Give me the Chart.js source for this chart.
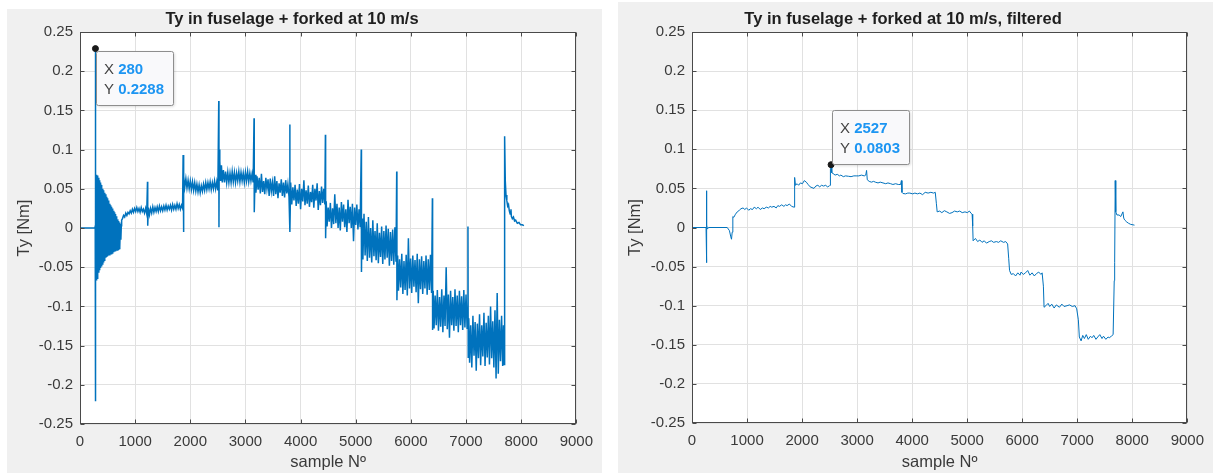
<!DOCTYPE html>
<html>
<head>
<meta charset="utf-8">
<script src="https://cdn.jsdelivr.net/npm/chart.js@4.4.1/dist/chart.umd.min.js"></script>
<style>
  body { margin: 0; background: #fff; width: 1213px; height: 473px; overflow: hidden; position: relative; }
  .panel { position: absolute; background: #f0f0f0; }
  #panelRaw { left: 7px; top: 9px; width: 595px; height: 464px; }
  #panelFilt { left: 618px; top: 2px; width: 595px; height: 471px; }
  canvas { display: block; }
</style>
</head>
<body>
<div class="panel" id="panelRaw"><canvas id="rawChart" width="595" height="464"></canvas></div>
<div class="panel" id="panelFilt"><canvas id="filtChart" width="595" height="471"></canvas></div>
<script>
// axis ticks
const xTicks = [0, 1000, 2000, 3000, 4000, 5000, 6000, 7000, 8000, 9000];
const xTickLabels = ['0', '1000', '2000', '3000', '4000', '5000', '6000', '7000', '8000', '9000'];
const yTicks = [-0.25, -0.2, -0.15, -0.1, -0.05, 0, 0.05, 0.1, 0.15, 0.2, 0.25];
const yTickLabels = ['-0.25', '-0.2', '-0.15', '-0.1', '-0.05', '0', '0.05', '0.1', '0.15', '0.2', '0.25'];

// data tips (left, right)
const tipSample = [280, 2527];
const tipTy = [0.2288, 0.0803];

// raw signal, [sample, Ty]
const rawTy = [
  [0, 0], [270, 0], [276, 0.002], [279, -0.221], [280, 0.2288], [282, -0.08],
  // decaying oscillation after the first hit
  [285, 0.070], [293, -0.066], [301, 0.068], [309, -0.064], [317, 0.067], [325, -0.060], [333, 0.064], [341, -0.057],
  [349, 0.061], [357, -0.054], [365, 0.058], [373, -0.051], [381, 0.055], [389, -0.049], [397, 0.053], [405, -0.046],
  [413, 0.050], [421, -0.043], [429, 0.048], [437, -0.041], [445, 0.045], [453, -0.040], [461, 0.043], [469, -0.038],
  [477, 0.040], [485, -0.037], [493, 0.038], [501, -0.036], [509, 0.035], [517, -0.035], [525, 0.033], [533, -0.034],
  [541, 0.031], [549, -0.033], [557, 0.029], [565, -0.033], [573, 0.027], [581, -0.032], [589, 0.025], [597, -0.031],
  [605, 0.022], [613, -0.031], [621, 0.020], [629, -0.030], [637, 0.018], [645, -0.030], [653, 0.015], [661, -0.029],
  [669, 0.013], [677, -0.028], [685, 0.011], [693, -0.027], [701, 0.009], [709, -0.026], [717, 0.007], [725, -0.025],
  [733, 0.005], [741, -0.015], [749, 0.003], [755, 0.010],
  // step 1
  [770, 0.012], [790, 0.016], [810, 0.014], [830, 0.019], [850, 0.016], [870, 0.020], [890, 0.018], [910, 0.022],
  [930, 0.019], [950, 0.024], [970, 0.020], [990, 0.025], [1010, 0.021], [1030, 0.026], [1050, 0.021], [1070, 0.025],
  [1090, 0.020], [1110, 0.026], [1130, 0.021], [1150, 0.024], [1170, 0.019], [1190, 0.025], [1210, 0.018],
  [1224, 0.059], [1228, 0.003], [1240, 0.026], [1260, 0.017], [1280, 0.025], [1300, 0.019], [1320, 0.027],
  [1340, 0.020], [1360, 0.026], [1380, 0.021], [1400, 0.027], [1420, 0.021], [1440, 0.028], [1460, 0.022],
  [1480, 0.027], [1500, 0.022], [1520, 0.028], [1540, 0.023], [1560, 0.029], [1580, 0.023], [1600, 0.028],
  [1620, 0.024], [1640, 0.029], [1660, 0.023], [1680, 0.030], [1700, 0.024], [1720, 0.029], [1740, 0.024],
  [1760, 0.031], [1780, 0.025], [1800, 0.030], [1820, 0.024], [1840, 0.029], [1860, 0.025],
  // step 2
  [1870, 0.093], [1874, -0.005],
  [1885, 0.066], [1900, 0.052], [1920, 0.063], [1940, 0.051], [1960, 0.061], [1980, 0.050], [2000, 0.060],
  [2020, 0.049], [2040, 0.059], [2060, 0.048], [2080, 0.058], [2100, 0.047], [2120, 0.056], [2140, 0.046],
  [2160, 0.055], [2180, 0.045], [2200, 0.054], [2220, 0.047], [2240, 0.056], [2260, 0.048], [2280, 0.058],
  [2300, 0.049], [2320, 0.058], [2340, 0.050], [2360, 0.059], [2380, 0.049], [2400, 0.058], [2420, 0.050],
  [2440, 0.060], [2460, 0.050], [2480, 0.059], [2500, 0.048],
  // step 3
  [2516, 0.162], [2520, 0.001], [2525, 0.100],
  [2535, 0.085], [2550, 0.060], [2565, 0.080], [2580, 0.058], [2600, 0.074], [2620, 0.058], [2640, 0.072],
  [2660, 0.058], [2680, 0.071], [2700, 0.058], [2720, 0.070], [2740, 0.058], [2760, 0.072], [2780, 0.059],
  [2800, 0.071], [2820, 0.058], [2840, 0.070], [2860, 0.060], [2880, 0.072], [2900, 0.059], [2920, 0.071],
  [2940, 0.060], [2960, 0.070], [2980, 0.058], [3000, 0.071], [3020, 0.060], [3040, 0.072], [3060, 0.059],
  [3080, 0.070], [3100, 0.060], [3120, 0.069], [3140, 0.058],
  // step 4
  [3156, 0.140], [3160, 0.020],
  [3175, 0.068], [3190, 0.045], [3210, 0.066], [3230, 0.049], [3250, 0.064], [3270, 0.044], [3290, 0.069],
  [3310, 0.046], [3330, 0.060], [3350, 0.043], [3370, 0.064], [3390, 0.050], [3410, 0.062], [3430, 0.041],
  [3450, 0.063], [3470, 0.047], [3490, 0.058], [3510, 0.041], [3530, 0.066], [3550, 0.043], [3570, 0.060],
  [3590, 0.038], [3610, 0.057], [3630, 0.045], [3650, 0.062], [3670, 0.041], [3690, 0.058], [3710, 0.039],
  [3730, 0.061], [3750, 0.044], [3770, 0.056], [3790, 0.040],
  // step 5
  [3804, 0.132], [3808, -0.005],
  [3820, 0.058], [3840, 0.030], [3860, 0.052], [3880, 0.035], [3900, 0.055], [3920, 0.028], [3940, 0.049],
  [3960, 0.031], [3980, 0.056], [4000, 0.024], [4020, 0.050], [4040, 0.034], [4060, 0.061], [4080, 0.029],
  [4100, 0.048], [4120, 0.031], [4140, 0.054], [4160, 0.027], [4180, 0.046], [4200, 0.033], [4220, 0.055],
  [4240, 0.026], [4260, 0.050], [4280, 0.035], [4300, 0.057], [4320, 0.023], [4340, 0.047], [4360, 0.029],
  [4380, 0.053], [4400, 0.032], [4420, 0.050], [4440, 0.030],
  // step 6
  [4450, 0.119], [4454, -0.013],
  [4465, 0.034], [4480, 0.002], [4500, 0.026], [4520, 0.008], [4540, 0.032], [4560, 0.000], [4580, 0.025],
  [4600, 0.005], [4620, 0.043], [4640, 0.006], [4660, 0.031], [4680, 0.000], [4700, 0.026], [4720, -0.003],
  [4740, 0.033], [4760, 0.008], [4780, 0.030], [4800, 0.001], [4820, 0.024], [4840, -0.005], [4860, 0.036],
  [4880, 0.006], [4900, 0.027], [4920, 0.000], [4940, 0.031], [4960, -0.017], [4980, 0.026], [5000, 0.004],
  [5020, 0.030], [5040, -0.002], [5060, 0.024], [5080, 0.001],
  // step 7
  [5100, 0.100], [5104, -0.056],
  [5115, 0.012], [5130, -0.040], [5150, 0.018], [5170, -0.035], [5190, 0.008], [5210, -0.042], [5230, 0.014],
  [5250, -0.038], [5270, 0.000], [5290, -0.044], [5310, 0.010], [5330, -0.036], [5350, -0.004], [5370, -0.041],
  [5390, 0.006], [5410, -0.045], [5430, -0.006], [5450, -0.037], [5470, 0.002], [5490, -0.046], [5510, -0.004],
  [5530, -0.040], [5550, 0.003], [5570, -0.038], [5590, -0.001], [5610, -0.048], [5630, -0.005], [5650, -0.042],
  [5670, -0.002], [5690, -0.047], [5710, 0.001], [5730, -0.043],
  // step 8
  [5743, 0.072], [5747, -0.092],
  [5760, -0.035], [5775, -0.080], [5795, -0.040], [5815, -0.076], [5835, -0.033], [5855, -0.084], [5875, -0.042],
  [5895, -0.079], [5915, -0.034], [5935, -0.086], [5955, -0.013], [5975, -0.077], [5995, -0.039], [6015, -0.083],
  [6035, -0.035], [6055, -0.075], [6075, -0.041], [6095, -0.082], [6115, -0.033], [6135, -0.096], [6155, -0.040],
  [6175, -0.078], [6195, -0.036], [6215, -0.084], [6235, -0.042], [6255, -0.077], [6275, -0.035], [6295, -0.085],
  [6315, -0.040], [6335, -0.079], [6355, -0.034], [6375, -0.083],
  // step 9
  [6390, 0.038], [6394, -0.130],
  [6405, -0.080], [6420, -0.128], [6440, -0.086], [6460, -0.124], [6480, -0.079], [6500, -0.131], [6520, -0.088],
  [6540, -0.126], [6560, -0.078], [6580, -0.133], [6600, -0.086], [6620, -0.125], [6640, -0.050], [6660, -0.129],
  [6680, -0.085], [6700, -0.140], [6720, -0.080], [6740, -0.124], [6760, -0.088], [6780, -0.131], [6800, -0.078],
  [6820, -0.125], [6840, -0.086], [6860, -0.133], [6880, -0.080], [6900, -0.124], [6920, -0.087], [6940, -0.130],
  [6960, -0.079], [6980, -0.127], [7000, -0.085], [7020, -0.128],
  // step 10
  [7035, 0.002], [7040, -0.165],
  [7050, -0.115], [7065, -0.172], [7085, -0.124], [7105, -0.178], [7125, -0.112], [7145, -0.163], [7165, -0.120],
  [7185, -0.182], [7205, -0.122], [7225, -0.166], [7245, -0.110], [7265, -0.175], [7285, -0.124], [7305, -0.164],
  [7325, -0.108], [7345, -0.176], [7365, -0.121], [7385, -0.165], [7405, -0.112], [7425, -0.174], [7445, -0.100],
  [7465, -0.166], [7485, -0.119], [7505, -0.178], [7525, -0.105], [7545, -0.192], [7565, -0.083], [7585, -0.186],
  [7605, -0.117], [7625, -0.170], [7645, -0.112], [7665, -0.176], [7680, -0.124], [7690, -0.174],
  // release
  [7700, 0.117], [7712, 0.060], [7725, 0.042], [7740, 0.035], [7755, 0.028], [7770, 0.030], [7785, 0.022],
  [7800, 0.018], [7815, 0.024], [7822, 0.015], [7840, 0.012], [7860, 0.014], [7880, 0.009], [7900, 0.010],
  [7930, 0.006], [7960, 0.007], [7990, 0.004], [8020, 0.004], [8050, 0.003]
];

// filtered signal, [sample, Ty]
const filtTy = [
  [0, 0], [255, 0], [262, 0.047], [266, -0.045], [270, 0.003], [280, -0.002], [300, 0], [640, 0],
  [680, -0.004], [705, -0.012], [718, -0.015], [730, -0.006], [742, 0.014],
  [760, 0.013], [790, 0.017], [822, 0.020], [860, 0.022], [890, 0.024], [927, 0.025], [960, 0.023], [990, 0.025],
  [1031, 0.022], [1060, 0.024], [1100, 0.023], [1130, 0.026], [1171, 0.024], [1200, 0.026], [1240, 0.023],
  [1280, 0.025], [1310, 0.024], [1350, 0.026], [1390, 0.025], [1420, 0.027], [1449, 0.026], [1490, 0.027],
  [1530, 0.025], [1560, 0.028], [1589, 0.027], [1630, 0.029], [1670, 0.027], [1700, 0.029], [1728, 0.028],
  [1770, 0.030], [1810, 0.027], [1854, 0.026], [1862, 0.026],
  [1868, 0.064], [1880, 0.054], [1910, 0.056], [1937, 0.054], [1970, 0.057], [2007, 0.056], [2040, 0.060],
  [2077, 0.058], [2110, 0.055], [2146, 0.052], [2180, 0.051], [2216, 0.050], [2250, 0.053], [2286, 0.054],
  [2320, 0.052], [2355, 0.054], [2390, 0.053], [2430, 0.054], [2460, 0.052], [2495, 0.053], [2508, 0.054],
  [2515, 0.075], [2527, 0.0803], [2540, 0.070], [2564, 0.069], [2600, 0.067], [2640, 0.068], [2680, 0.066],
  [2704, 0.067], [2750, 0.065], [2790, 0.066], [2843, 0.0655], [2890, 0.065], [2940, 0.066], [2983, 0.066],
  [3030, 0.066], [3080, 0.067], [3130, 0.066], [3157, 0.067],
  [3172, 0.073], [3185, 0.061], [3220, 0.059], [3260, 0.058], [3300, 0.059], [3331, 0.058], [3380, 0.057],
  [3420, 0.058], [3470, 0.057], [3520, 0.056], [3560, 0.057], [3610, 0.056], [3650, 0.055], [3700, 0.056],
  [3749, 0.055], [3790, 0.055],
  [3805, 0.060], [3815, 0.045], [3833, 0.0435], [3880, 0.043], [3920, 0.044], [3958, 0.044], [4010, 0.043],
  [4050, 0.044], [4098, 0.043], [4140, 0.044], [4190, 0.042], [4237, 0.045], [4290, 0.044], [4340, 0.045],
  [4390, 0.044], [4420, 0.045],
  [4440, 0.031], [4455, 0.020], [4500, 0.021], [4540, 0.019], [4585, 0.0215], [4630, 0.020], [4680, 0.018],
  [4725, 0.019], [4770, 0.021], [4820, 0.020], [4864, 0.021], [4910, 0.019], [4960, 0.020], [5003, 0.019],
  [5040, 0.021], [5073, 0.018], [5090, 0.017],
  [5100, 0.002], [5108, -0.017], [5150, -0.014], [5190, -0.018], [5230, -0.016], [5270, -0.019], [5310, -0.017],
  [5350, -0.020], [5400, -0.018], [5440, -0.017], [5480, -0.019], [5530, -0.018], [5570, -0.019], [5610, -0.017],
  [5660, -0.019], [5700, -0.018], [5735, -0.021],
  [5755, -0.040], [5770, -0.055], [5800, -0.060], [5840, -0.059], [5880, -0.062], [5920, -0.058], [5960, -0.061],
  [5979, -0.057], [6020, -0.060], [6060, -0.058], [6100, -0.055], [6140, -0.061], [6180, -0.058], [6220, -0.062],
  [6258, -0.059], [6300, -0.057], [6340, -0.060], [6362, -0.058],
  [6385, -0.075], [6397, -0.102], [6430, -0.100], [6470, -0.097], [6500, -0.101], [6537, -0.098], [6580, -0.103],
  [6620, -0.099], [6676, -0.102], [6720, -0.098], [6760, -0.101], [6815, -0.100], [6860, -0.099], [6910, -0.101],
  [6960, -0.100], [6990, -0.104],
  [7020, -0.118], [7038, -0.140], [7070, -0.145], [7100, -0.138], [7130, -0.142], [7164, -0.137], [7200, -0.143],
  [7240, -0.139], [7268, -0.141], [7300, -0.138], [7340, -0.143], [7373, -0.140], [7410, -0.137], [7450, -0.142],
  [7477, -0.139], [7520, -0.143], [7560, -0.140], [7582, -0.141], [7620, -0.139], [7652, -0.137], [7665, -0.137],
  [7672, -0.068], [7680, -0.045], [7690, 0.060], [7700, 0.020], [7721, 0.016], [7760, 0.016], [7791, 0.014],
  [7830, 0.020], [7845, 0.012], [7861, 0.0097], [7900, 0.007], [7930, 0.0055], [7970, 0.004], [8014, 0.0034],
  [8040, 0.003]
];

const FONT = "'Liberation Sans', Arial, Helvetica, sans-serif";
const INK = '#3a3a3a';
const LINE = '#0072bd';

// white axes box, full frame with inward ticks, and the data tip box
const matlabAxes = {
  id: 'matlabAxes',
  beforeDraw(chart) {
    const {ctx, chartArea: a} = chart;
    ctx.save();
    ctx.fillStyle = '#fff';
    ctx.fillRect(a.left, a.top, a.right - a.left, a.bottom - a.top);
    ctx.restore();
  },
  afterDatasetsDraw(chart) {
    const {ctx, chartArea: a, scales} = chart;
    const l = Math.round(a.left) + 0.5, r = Math.round(a.right) - 0.5;
    const t = Math.round(a.top) + 0.5, b = Math.round(a.bottom) - 0.5;
    ctx.save();
    ctx.strokeStyle = '#4a4a4a';
    ctx.lineWidth = 1;
    ctx.strokeRect(l, t, r - l, b - t);
    ctx.beginPath();
    xTicks.forEach(v => {
      const px = Math.round(scales.x.getPixelForValue(v)) + 0.5;
      ctx.moveTo(px, b); ctx.lineTo(px, b - 4);
      ctx.moveTo(px, t); ctx.lineTo(px, t + 4);
    });
    yTicks.forEach(v => {
      const py = Math.round(scales.y.getPixelForValue(v)) + 0.5;
      ctx.moveTo(l, py); ctx.lineTo(l + 4, py);
      ctx.moveTo(r, py); ctx.lineTo(r - 4, py);
    });
    ctx.stroke();
    ctx.restore();
  },
  afterDraw(chart, args, opts) {
    if (opts.tip == null) return;
    const {ctx, scales} = chart;
    const i = opts.tip;
    const px = scales.x.getPixelForValue(tipSample[i]);
    const py = scales.y.getPixelForValue(tipTy[i]);
    const w = 77, h = 54;
    const bx = Math.round(px) + 1.5;
    const by = opts.below ? Math.round(py) + 2.5 : Math.round(py) - h - 0.5;
    ctx.save();
    ctx.shadowColor = 'rgba(0,0,0,0.18)';
    ctx.shadowBlur = 3;
    ctx.shadowOffsetX = 1;
    ctx.shadowOffsetY = 1;
    ctx.fillStyle = '#f9f9fb';
    ctx.beginPath();
    ctx.roundRect(bx, by, w, h, 2);
    ctx.fill();
    ctx.shadowColor = 'transparent';
    ctx.strokeStyle = '#8e8e8e';
    ctx.lineWidth = 1;
    ctx.stroke();
    ctx.textBaseline = 'middle';
    ctx.textAlign = 'left';
    ctx.font = `15px ${FONT}`;
    ctx.fillStyle = '#444';
    const off = ctx.measureText('X ').width;
    ctx.fillText('X', bx + 7.5, by + 18);
    ctx.fillText('Y', bx + 7.5, by + 38);
    ctx.font = `bold 15px ${FONT}`;
    ctx.fillStyle = '#1c95f2';
    ctx.fillText(String(tipSample[i]), bx + 7.5 + off, by + 18);
    ctx.fillText(String(tipTy[i]), bx + 7.5 + off, by + 38);
    ctx.restore();
  }
};

function makeChart(id, title, series, tip, tipBelow, lineWidth, yWidth, xHeight, titlePad) {
  const ctx = document.getElementById(id).getContext('2d');
  return new Chart(ctx, {
    type: 'line',
    data: {
      datasets: [
        {
          type: 'scatter',
          data: [{x: tipSample[tip], y: tipTy[tip]}],
          pointRadius: 3,
          pointBackgroundColor: '#1a1a1a',
          pointBorderColor: '#1a1a1a',
          showLine: false,
          order: 0
        },
        {
          data: series.map(p => ({x: p[0], y: p[1]})),
          borderColor: LINE,
          borderWidth: lineWidth,
          pointRadius: 0,
          fill: false,
          tension: 0,
          order: 1
        }
      ]
    },
    options: {
      responsive: false,
      animation: false,
      devicePixelRatio: 1,
      events: [],
      layout: { padding: { left: 0, right: 25, top: 0, bottom: 0 } },
      plugins: {
        legend: { display: false },
        tooltip: { enabled: false },
        title: {
          display: true,
          text: title,
          color: '#1e1e1e',
          font: { family: FONT, size: 16.5, weight: 'bold', lineHeight: 1.2 },
          padding: titlePad
        },
        matlabAxes: { tip: tip, below: tipBelow }
      },
      scales: {
        x: {
          type: 'linear',
          min: 0,
          max: 9000,
          afterBuildTicks: s => { s.ticks = xTicks.map(v => ({value: v})); },
          afterFit: s => { s.height = xHeight; },
          ticks: {
            color: INK,
            font: { family: FONT, size: 15 },
            padding: 9,
            maxRotation: 0,
            autoSkip: false,
            callback: (v, i) => xTickLabels[i]
          },
          grid: { color: '#e1e1e1', drawTicks: false },
          border: { display: false },
          title: {
            display: true,
            text: 'sample Nº',
            color: INK,
            font: { family: FONT, size: 16.5, lineHeight: 1.2 },
            padding: { top: 0, bottom: 1 }
          }
        },
        y: {
          min: -0.25,
          max: 0.25,
          afterBuildTicks: s => { s.ticks = yTicks.map(v => ({value: v})); },
          afterFit: s => { s.width = yWidth; },
          ticks: {
            color: INK,
            font: { family: FONT, size: 15 },
            padding: 7,
            autoSkip: false,
            callback: (v, i) => yTickLabels[i]
          },
          grid: { color: '#e1e1e1', drawTicks: false },
          border: { display: false },
          title: {
            display: true,
            text: 'Ty [Nm]',
            color: INK,
            font: { family: FONT, size: 16.5, lineHeight: 1.2 },
            padding: { top: 8, bottom: 0 }
          }
        }
      }
    },
    plugins: [matlabAxes]
  });
}

makeChart('rawChart', 'Ty in fuselage + forked at 10 m/s', rawTy, 0, true, 1.5, 73, 49, { top: 1, bottom: 2.2 });
makeChart('filtChart', 'Ty in fuselage + forked at 10 m/s, filtered', filtTy, 1, false, 1, 74, 50, { top: 8, bottom: 2.2 });
</script>
</body>
</html>
